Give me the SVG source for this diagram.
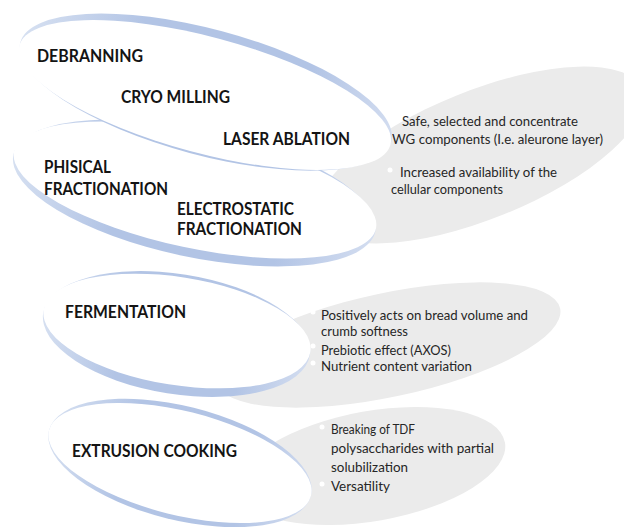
<svg xmlns="http://www.w3.org/2000/svg" width="624" height="527" viewBox="0 0 624 527">
<defs>
<linearGradient id="swg" x1="0" y1="0" x2="1" y2="0">
<stop offset="0" stop-color="#d6e0f1"/>
<stop offset="0.3" stop-color="#b2c4e5"/>
<stop offset="0.75" stop-color="#b2c4e5"/>
<stop offset="1" stop-color="#d3ddf0"/>
</linearGradient>
</defs>
<style>
.grey{fill:#ebebeb}
.wh{fill:#ffffff}
.sw{fill:url(#swg)}
.lb{font-family:Lato,"Liberation Sans",sans-serif;font-weight:bold;font-size:16.5px;fill:#141414}
.tx{font-family:Lato,"Liberation Sans",sans-serif;font-size:13.5px;fill:#262626}
.dot{fill:#ffffff}
</style>
<rect width="624" height="527" fill="#ffffff"/>

<g id="benefits-fractionation">
<ellipse class="grey" transform="translate(480,155) rotate(-22)" rx="175" ry="64"/>
<circle class="dot" cx="390" cy="119" r="2.5"/>
<circle class="dot" cx="390" cy="170" r="2.5"/>
<text class="tx" x="402" y="126" textLength="176" lengthAdjust="spacingAndGlyphs">Safe, selected and concentrate</text>
<text class="tx" x="392" y="143.5" textLength="211" lengthAdjust="spacingAndGlyphs">WG components (I.e. aleurone layer)</text>
<text class="tx" x="400" y="177" textLength="157" lengthAdjust="spacingAndGlyphs">Increased availability of the</text>
<text class="tx" x="391" y="194" textLength="112" lengthAdjust="spacingAndGlyphs">cellular components</text>
</g>

<g id="benefits-fermentation">
<ellipse class="grey" transform="translate(388,345) rotate(-12)" rx="176" ry="52"/>
<circle class="dot" cx="313" cy="312" r="2.5"/>
<circle class="dot" cx="313" cy="346" r="2.5"/>
<circle class="dot" cx="313" cy="363" r="2.5"/>
<text class="tx" x="321" y="319.5" textLength="207" lengthAdjust="spacingAndGlyphs">Positively acts on bread volume and</text>
<text class="tx" x="321" y="336" textLength="87" lengthAdjust="spacingAndGlyphs">crumb softness</text>
<text class="tx" x="321" y="354.5" textLength="130" lengthAdjust="spacingAndGlyphs">Prebiotic effect (AXOS)</text>
<text class="tx" x="321" y="371" textLength="151" lengthAdjust="spacingAndGlyphs">Nutrient content variation</text>
</g>

<g id="benefits-extrusion">
<ellipse class="grey" transform="translate(372,466) rotate(-10)" rx="135" ry="55"/>
<circle class="dot" cx="322" cy="427" r="2.5"/>
<circle class="dot" cx="322" cy="484" r="2.5"/>
<text class="tx" x="331" y="434" textLength="84" lengthAdjust="spacingAndGlyphs">Breaking of TDF</text>
<text class="tx" x="331" y="453" textLength="163" lengthAdjust="spacingAndGlyphs">polysaccharides with partial</text>
<text class="tx" x="331" y="472" textLength="77" lengthAdjust="spacingAndGlyphs">solubilization</text>
<text class="tx" x="331" y="491" textLength="59" lengthAdjust="spacingAndGlyphs">Versatility</text>
</g>

<g id="physical-fractionation">
<g transform="translate(195,190) rotate(12)">
<ellipse class="sw" cy="3" rx="185" ry="64"/>
<ellipse class="wh" rx="185" ry="58"/>
</g>
<text class="lb" x="44" y="173" textLength="67" lengthAdjust="spacingAndGlyphs">PHISICAL</text>
<text class="lb" x="44" y="195" textLength="124" lengthAdjust="spacingAndGlyphs">FRACTIONATION</text>
<text class="lb" x="177" y="215" textLength="117" lengthAdjust="spacingAndGlyphs">ELECTROSTATIC</text>
<text class="lb" x="177" y="235" textLength="125" lengthAdjust="spacingAndGlyphs">FRACTIONATION</text>
</g>

<g id="milling">
<g transform="translate(205,95) rotate(15)">
<ellipse class="sw" cy="-3" rx="192" ry="63"/>
<ellipse class="wh" rx="192" ry="58"/>
</g>
<text class="lb" x="37" y="62" textLength="106" lengthAdjust="spacingAndGlyphs">DEBRANNING</text>
<text class="lb" x="121" y="103" textLength="109" lengthAdjust="spacingAndGlyphs">CRYO MILLING</text>
<text class="lb" x="223" y="145" textLength="127" lengthAdjust="spacingAndGlyphs">LASER ABLATION</text>
</g>

<g id="fermentation">
<g transform="translate(177,331) rotate(9)">
<ellipse class="sw" cy="3" rx="135" ry="60"/>
<ellipse class="wh" rx="135" ry="54"/>
</g>
<text class="lb" x="65" y="318" textLength="121" lengthAdjust="spacingAndGlyphs">FERMENTATION</text>
</g>

<g id="extrusion-cooking">
<g transform="translate(180,463) rotate(14)">
<ellipse class="sw" rx="135" ry="57"/>
<ellipse class="wh" rx="135" ry="52"/>
</g>
<text class="lb" x="72" y="457" textLength="165" lengthAdjust="spacingAndGlyphs">EXTRUSION COOKING</text>
</g>
</svg>
